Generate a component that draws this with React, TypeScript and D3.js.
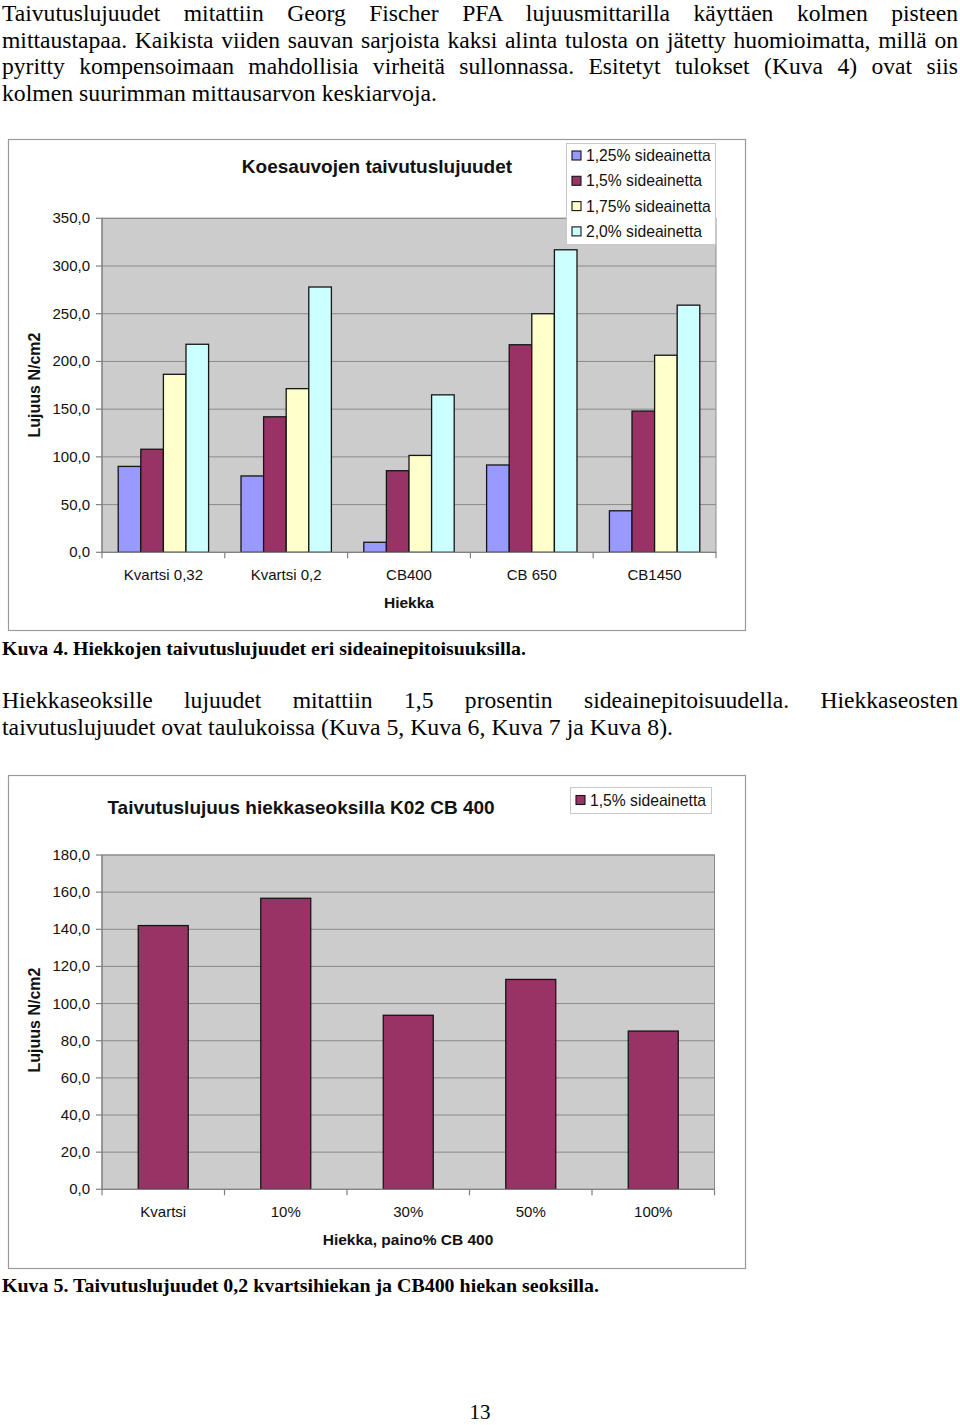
import React, { useEffect, useRef } from "react";
import * as d3 from "d3";

// ---------- Data ----------
const categories1 = ["Kvartsi 0,32", "Kvartsi 0,2", "CB400", "CB 650", "CB1450"];
const seriesNames1 = ["1,25% sideainetta", "1,5% sideainetta", "1,75% sideainetta", "2,0% sideainetta"];
const values125 = [90, 80, 10.5, 91.5, 43.5];
const values150 = [108, 142, 85.5, 217.5, 148];
const values175 = [186.5, 171.5, 101.5, 250, 206.5];
const values200 = [218, 278, 165, 317, 259];
const seriesColors1 = ["#9999ff", "#993366", "#ffffcc", "#ccffff"];
const yTicks1 = d3.range(0, 351, 50);

const categories2 = ["Kvartsi", "10%", "30%", "50%", "100%"];
const seriesNames2 = ["1,5% sideainetta"];
const values2 = [142, 156.7, 93.7, 113, 85.2];
const seriesColors2 = ["#993366"];
const yTicks2 = d3.range(0, 181, 20);

const para1 = [
  "Taivutuslujuudet mitattiin Georg Fischer PFA lujuusmittarilla käyttäen kolmen pisteen",
  "mittaustapaa. Kaikista viiden sauvan sarjoista kaksi alinta tulosta on jätetty huomioimatta, millä on",
  "pyritty kompensoimaan mahdollisia virheitä sullonnassa. Esitetyt tulokset (Kuva 4) ovat siis",
  "kolmen suurimman mittausarvon keskiarvoja.",
];
const caption1 = "Kuva 4. Hiekkojen taivutuslujuudet eri sideainepitoisuuksilla.";
const para2 = [
  "Hiekkaseoksille lujuudet mitattiin 1,5 prosentin sideainepitoisuudella. Hiekkaseosten",
  "taivutuslujuudet ovat taulukoissa (Kuva 5, Kuva 6, Kuva 7 ja Kuva 8).",
];
const caption2 = "Kuva 5. Taivutuslujuudet 0,2 kvartsihiekan ja CB400 hiekan seoksilla.";
const pageNumber = "13";

const fiLocale = d3.formatLocale({ decimal: ",", thousands: " ", grouping: [3], currency: ["", "€"] });
const fmt = fiLocale.format(".1f");

const SANS = "'Liberation Sans', Arial, sans-serif";
const SERIF = "'Liberation Serif', 'Times New Roman', serif";
const BODY_SIZE = 23.6;

type ChartProps = {
  frame: { x: number; y: number; w: number; h: number };
  plot: { left: number; right: number; top: number; bottom: number };
  yMax: number;
  yTicks: number[];
  categories: string[];
  series: number[][];
  seriesNames: string[];
  colors: string[];
  groupRatio: number;
  title: string;
  titleX: number;
  titleY: number;
  xTitle: string;
  xTitleX: number;
  xTitleY: number;
  catLabelY: number;
  yTitleCenter: number;
  legend: { x: number; y: number; w: number; h: number; swatchX: number; textX: number; firstY: number; step: number };
};

function BarChart(p: ChartProps) {
  const x0 = d3.scaleBand<string>().domain(p.categories).range([p.plot.left, p.plot.right]);
  const y = d3.scaleLinear().domain([0, p.yMax]).range([p.plot.bottom, p.plot.top]);
  const groupW = x0.bandwidth() * p.groupRatio;
  const x1 = d3.scaleBand<number>().domain(d3.range(p.series.length)).range([0, groupW]);
  const offset = (x0.bandwidth() - groupW) / 2;
  const boundaries = d3.range(p.categories.length + 1).map((i) => p.plot.left + i * x0.step());
  return (
    <g>
      <rect x={p.frame.x + 0.5} y={p.frame.y + 0.5} width={p.frame.w} height={p.frame.h} fill="#fff" stroke="#9a9a9a" strokeWidth={1.2} />
      <rect x={p.plot.left} y={p.plot.top} width={p.plot.right - p.plot.left} height={p.plot.bottom - p.plot.top} fill="#cccccc" stroke="#8c8c8c" strokeWidth={1} />
      {p.yTicks.filter((t) => t > 0).map((t) => (
        <line key={"g" + t} x1={p.plot.left} x2={p.plot.right} y1={y(t)} y2={y(t)} stroke="#8a8a8a" strokeWidth={1} />
      ))}
      {p.series.map((vals, si) =>
        vals.map((v, ci) => (
          <rect
            key={si + "-" + ci}
            x={(x0(p.categories[ci]) as number) + offset + (x1(si) as number)}
            y={y(v)}
            width={x1.bandwidth()}
            height={y(0) - y(v)}
            fill={p.colors[si]}
            stroke="#151515"
            strokeWidth={1.3}
          />
        ))
      )}
      {/* axes */}
      <line x1={p.plot.left} x2={p.plot.left} y1={p.plot.top} y2={p.plot.bottom} stroke="#808080" strokeWidth={1.2} />
      <line x1={p.plot.left} x2={p.plot.right} y1={p.plot.bottom} y2={p.plot.bottom} stroke="#808080" strokeWidth={1.2} />
      {p.yTicks.map((t) => (
        <g key={"t" + t}>
          <line x1={p.plot.left - 6} x2={p.plot.left} y1={y(t)} y2={y(t)} stroke="#808080" strokeWidth={1.2} />
          <text x={p.plot.left - 12} y={y(t) + 5} textAnchor="end" fontFamily={SANS} fontSize={15} fill="#111">
            {fmt(t)}
          </text>
        </g>
      ))}
      {boundaries.map((b, i) => (
        <line key={"b" + i} x1={b} x2={b} y1={p.plot.bottom} y2={p.plot.bottom + 6} stroke="#808080" strokeWidth={1.2} />
      ))}
      {p.categories.map((c) => (
        <text key={c} x={(x0(c) as number) + x0.bandwidth() / 2} y={p.catLabelY} textAnchor="middle" fontFamily={SANS} fontSize={15} fill="#111">
          {c}
        </text>
      ))}
      <text x={p.xTitleX} y={p.xTitleY} textAnchor="middle" fontFamily={SANS} fontSize={15.5} fontWeight="bold" fill="#111">
        {p.xTitle}
      </text>
      <text
        transform={`translate(34,${p.yTitleCenter}) rotate(-90)`}
        textAnchor="middle"
        dominantBaseline="central"
        fontFamily={SANS}
        fontSize={16}
        fontWeight="bold"
        fill="#111"
      >
        Lujuus N/cm2
      </text>
      <text x={p.titleX} y={p.titleY} textAnchor="middle" fontFamily={SANS} fontSize={19} fontWeight="bold" fill="#111">
        {p.title}
      </text>
      {/* legend */}
      <rect x={p.legend.x + 0.5} y={p.legend.y + 0.5} width={p.legend.w} height={p.legend.h} fill="#fff" stroke="#c8c8c8" strokeWidth={1} />
      {p.seriesNames.map((n, i) => {
        const cy = p.legend.firstY + i * p.legend.step;
        return (
          <g key={n}>
            <rect x={p.legend.swatchX} y={cy - 4.5} width={9} height={9} fill={p.colors[i]} stroke="#151515" strokeWidth={1.1} />
            <text x={p.legend.textX} y={cy + 5.5} fontFamily={SANS} fontSize={15.7} fill="#111">
              {n}
            </text>
          </g>
        );
      })}
    </g>
  );
}

function App() {
  const ref = useRef<SVGSVGElement>(null);

  useEffect(() => {
    if (!ref.current) return;
    const svg = d3.select(ref.current);
    svg.selectAll<SVGTextElement, unknown>("text.justify").each(function () {
      const el = this;
      const target = +(el.getAttribute("data-width") || 0);
      const txt = el.textContent || "";
      const spaces = (txt.match(/ /g) || []).length;
      el.style.wordSpacing = "0px";
      const natural = el.getComputedTextLength();
      if (spaces > 0) el.style.wordSpacing = `${(target - natural) / spaces}px`;
    });
  }, []);

  const lineH = 26.6;
  const firstBase = 21.2;
  return (
    <svg
      ref={ref}
      width={960}
      height={1425}
      style={{ position: "absolute", left: 0, top: 0, display: "block", background: "#fff" }}
    >
      <rect x={0} y={0} width={960} height={1425} fill="#fff" />
      {para1.map((l, i) =>
        i < para1.length - 1 ? (
          <text key={i} className="justify" data-width={956} x={2} y={firstBase + i * lineH} fontFamily={SERIF} fontSize={BODY_SIZE} fill="#000">
            {l}
          </text>
        ) : (
          <text key={i} x={2} y={firstBase + i * lineH} fontFamily={SERIF} fontSize={BODY_SIZE} fill="#000" textLength={435} lengthAdjust="spacingAndGlyphs">
            {l}
          </text>
        )
      )}

      <BarChart
        frame={{ x: 8, y: 139, w: 737, h: 491 }}
        plot={{ left: 102, right: 716, top: 218.3, bottom: 552.3 }}
        yMax={350}
        yTicks={yTicks1}
        categories={categories1}
        series={[values125, values150, values175, values200]}
        seriesNames={seriesNames1}
        colors={seriesColors1}
        groupRatio={0.736}
        title="Koesauvojen taivutuslujuudet"
        titleX={377}
        titleY={173}
        xTitle="Hiekka"
        xTitleX={409}
        xTitleY={608}
        catLabelY={579.5}
        yTitleCenter={385}
        legend={{ x: 566, y: 143, w: 149, h: 101, swatchX: 572, textX: 586, firstY: 155.5, step: 25.3 }}
      />

      <text x={2} y={655} fontFamily={SERIF} fontSize={19.5} fontWeight="bold" fill="#000" textLength={524} lengthAdjust="spacingAndGlyphs">
        {caption1}
      </text>

      <text className="justify" data-width={956} x={2} y={708} fontFamily={SERIF} fontSize={BODY_SIZE} fill="#000">
        {para2[0]}
      </text>
      <text x={2} y={708 + 27.2} fontFamily={SERIF} fontSize={BODY_SIZE} fill="#000" textLength={671} lengthAdjust="spacingAndGlyphs">
        {para2[1]}
      </text>

      <BarChart
        frame={{ x: 8, y: 775, w: 737, h: 493 }}
        plot={{ left: 102, right: 714.5, top: 855, bottom: 1189.3 }}
        yMax={180}
        yTicks={yTicks2}
        categories={categories2}
        series={[values2]}
        seriesNames={seriesNames2}
        colors={seriesColors2}
        groupRatio={0.408}
        title="Taivutuslujuus hiekkaseoksilla K02 CB 400"
        titleX={301}
        titleY={814}
        xTitle="Hiekka, paino% CB 400"
        xTitleX={408}
        xTitleY={1245}
        catLabelY={1216.5}
        yTitleCenter={1020}
        legend={{ x: 570, y: 787, w: 141, h: 26, swatchX: 576, textX: 590, firstY: 800, step: 25 }}
      />

      <text x={2} y={1292} fontFamily={SERIF} fontSize={19.5} fontWeight="bold" fill="#000" textLength={597} lengthAdjust="spacingAndGlyphs">
        {caption2}
      </text>

      <text x={480} y={1419} textAnchor="middle" fontFamily={SERIF} fontSize={21} fill="#000">
        {pageNumber}
      </text>
    </svg>
  );
}

export default App;
